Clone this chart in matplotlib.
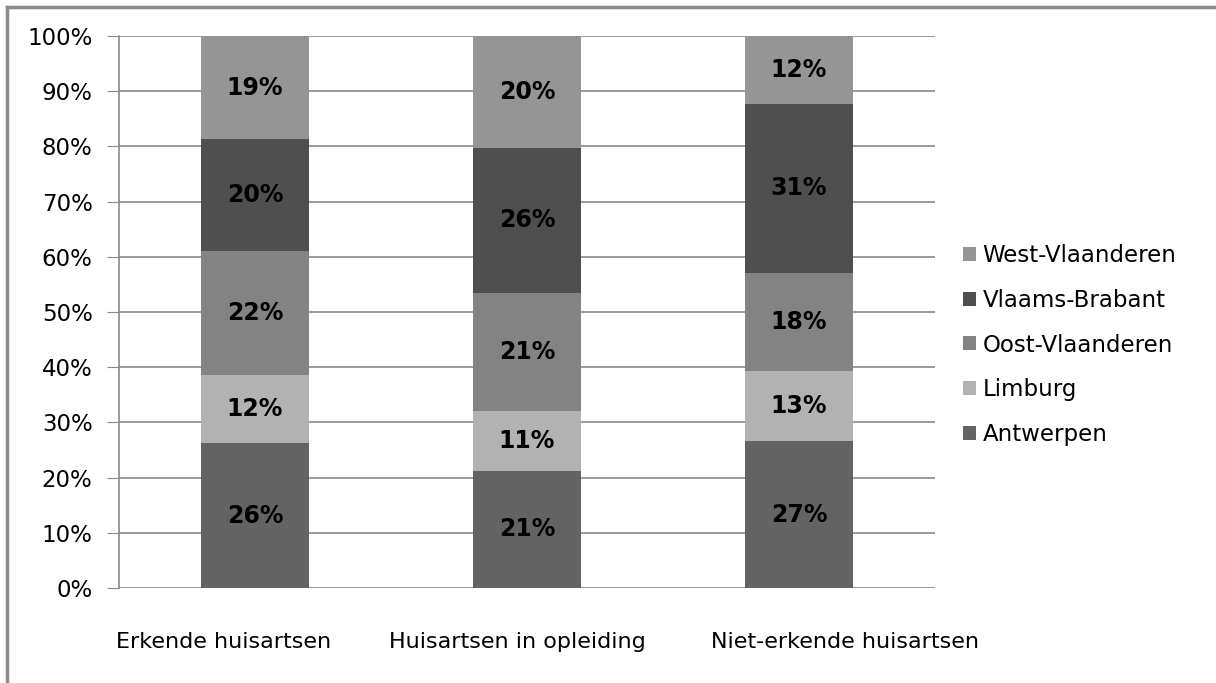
import matplotlib.pyplot as plt
from matplotlib.lines import Line2D

categories = ["Erkende huisartsen", "Huisartsen in opleiding", "Niet-erkende huisartsen"]
regions = ["Antwerpen", "Limburg", "Oost-Vlaanderen", "Vlaams-Brabant", "West-Vlaanderen"]

# share per province (%), bottom to top
antwerpen = [26.2, 21.2, 26.6]
limburg = [12.4, 10.9, 12.8]
oost_vlaanderen = [22.4, 21.3, 17.7]
vlaams_brabant = [20.3, 26.4, 30.6]
west_vlaanderen = [18.7, 20.2, 12.3]

series = [antwerpen, limburg, oost_vlaanderen, vlaams_brabant, west_vlaanderen]
colors = ["#636363", "#b2b2b2", "#838383", "#4f4f4f", "#959595"]

plt.rcParams['font.family'] = ['DejaVu Sans']

fig = plt.figure(figsize=(12.16, 6.83), dpi=100)
ax = fig.add_axes([119/1216, 1-588/683, 816/1216, 552/683])

x = range(len(categories))
bottom = [0, 0, 0]
bars = []
for vals, col, name in zip(series, colors, regions):
    b = ax.bar(x, vals, width=0.4, bottom=bottom, color=col, label=name, zorder=3)
    bars.append(b)
    for i, v in enumerate(vals):
        ax.text(i, bottom[i] + v/2, f"{round(v)}%", ha="center", va="center",
                fontsize=17, fontweight="bold", color="black", zorder=4)
    bottom = [bt + v for bt, v in zip(bottom, vals)]

ax.set_xlim(-0.5, 2.5)
ax.set_ylim(0, 100)
ax.set_yticks(range(0, 101, 10))
ax.set_yticklabels([f"{t}%" for t in range(0, 101, 10)], fontsize=16.5)
ax.set_xticks(list(x))
ax.set_xticklabels([])
ax.tick_params(axis="x", length=0)
ax.tick_params(axis="y", length=9, color="#898989", pad=10)
ax.yaxis.grid(True, color="#898989", linewidth=1.2, zorder=0)
for s in ["top", "right", "bottom"]:
    ax.spines[s].set_visible(False)
ax.spines["left"].set_color("#898989")
ax.spines["left"].set_linewidth(1.2)

# category names sit a little off the bar centres
label_dx = [-31, -10, 46]
for i, (cat, dx) in enumerate(zip(categories, label_dx)):
    ax.annotate(cat, xy=(i, 0), xycoords=("data", "axes fraction"),
                xytext=(dx, -60), textcoords="offset pixels",
                ha="center", va="baseline", fontsize=16, annotation_clip=False)

handles = [bars[i] for i in range(4, -1, -1)]
labels = [regions[i] for i in range(4, -1, -1)]
fig.legend(handles, labels, loc="center left", bbox_to_anchor=(954/1216, 1-345/683),
           frameon=False, fontsize=16.5, handlelength=0.55, handleheight=0.55,
           handletextpad=0.3, labelspacing=0.95, borderaxespad=0)

# outer chart border
fig.add_artist(Line2D([7/1216, 7/1216], [0, 1-7/683], color="#8c8c8c", linewidth=2.5))
fig.add_artist(Line2D([7/1216, 1], [1-7/683, 1-7/683], color="#8c8c8c", linewidth=2.5))

fig.savefig("out.png", dpi=100)
